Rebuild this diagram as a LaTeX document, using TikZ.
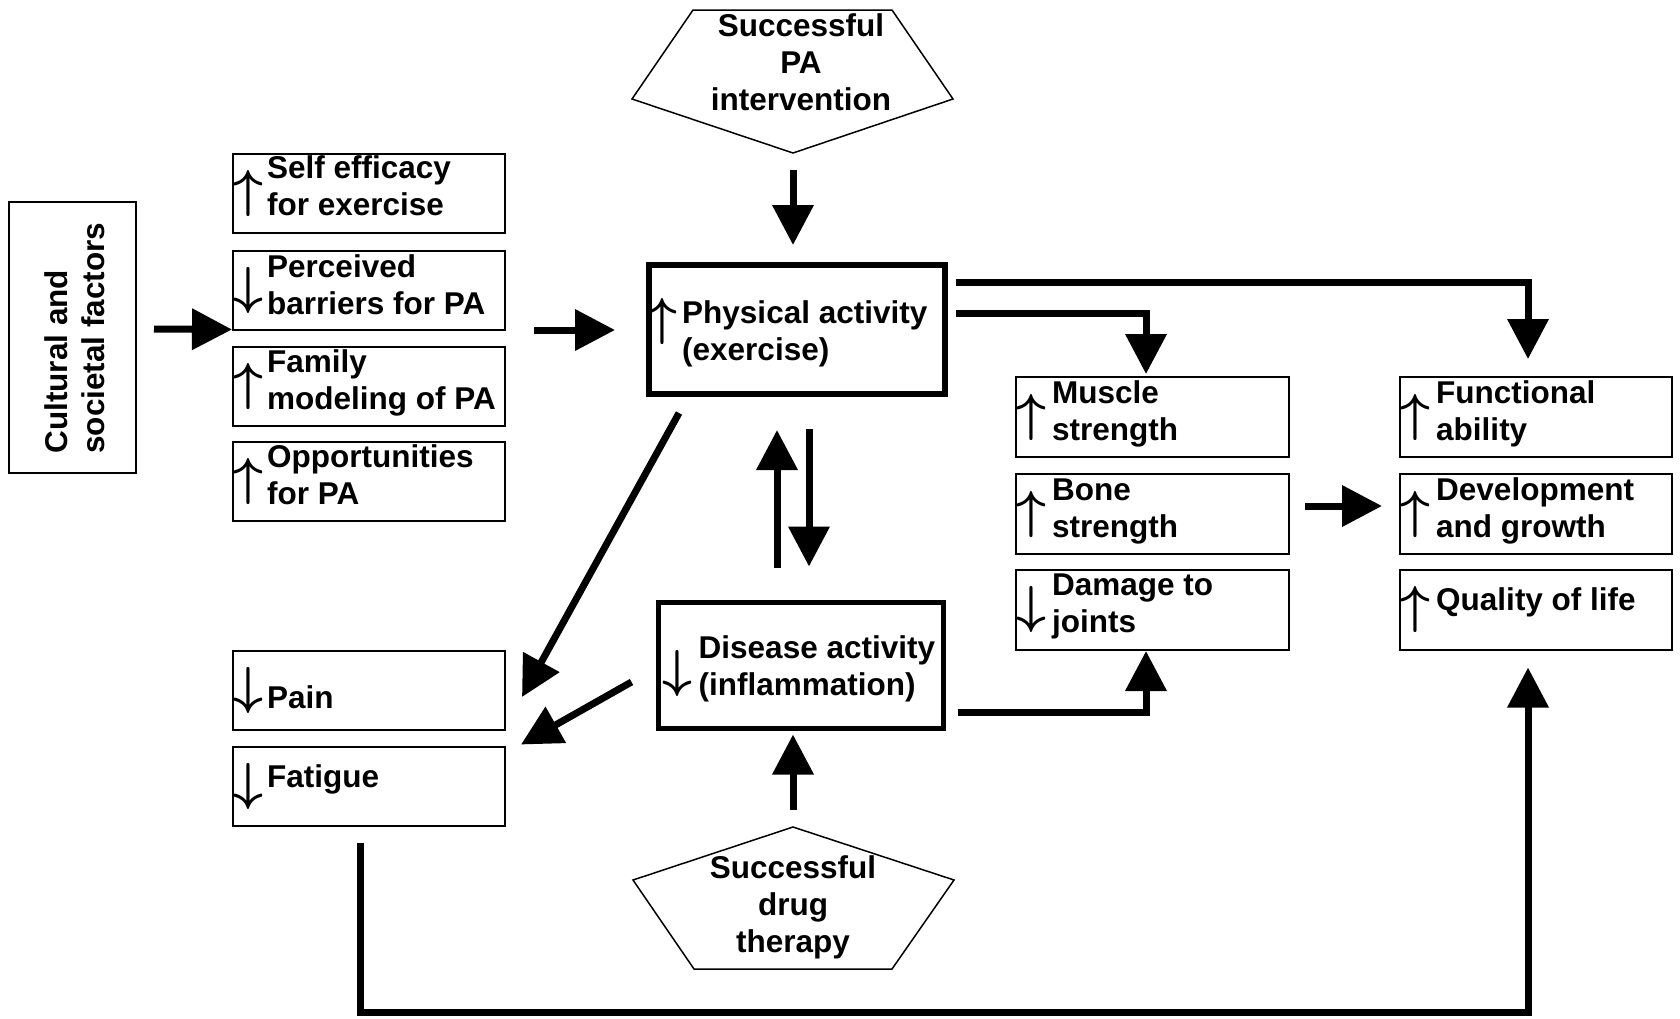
\documentclass[tikz,border=0pt]{standalone}
\usepackage{fontspec}
\setmainfont{Liberation Sans}
\usetikzlibrary{arrows.meta,calc}
\newcommand\symup{\scalebox{5.2}{\boldmath$\uparrow$}}
\newcommand\symdn{\scalebox{5.2}{\boldmath$\downarrow$}}
\begin{document}
\begin{tikzpicture}[x=1pt,y=-1pt,
  box/.style={draw, line width=2pt, rectangle, minimum width=272pt, minimum height=79pt, inner sep=0pt},
  lbl/.style={font=\bfseries\fontsize{31.5}{37}\selectfont, align=left, anchor=west, inner sep=0pt},
  ctr/.style={font=\bfseries\fontsize{31.5}{37}\selectfont, align=center, inner sep=0pt},
  sym/.style={font=\normalsize, inner sep=0pt},
  conn/.style={line width=7pt, -{Triangle[length=40pt,width=40pt]}, line join=miter},
  penta/.style={draw, line width=1.5pt, line join=miter},
]
\useasboundingbox (0,0) rectangle (1680,1018);

% Cultural and societal factors
\node[box, minimum width=127pt, minimum height=271pt] (cult) at (72.5,337.5) {};
\node[lbl, anchor=center, rotate=90] (cult-t) at (78.6,338) {\strut Cultural and\\\strut societal factors};

% left column
\node[box] (b1) at (369,193.5) {};
\node[lbl] (b1-t) at ($(b1.west)+(35,-3.5)$) {\strut Self efficacy\\\strut for exercise};
\node[sym] (b1-a) at ($(b1.west)+(16,0)$) {\symup};

\node[box] (b2) at (369,290) {};
\node[lbl] (b2-t) at ($(b2.west)+(35,-1.5)$) {\strut Perceived\\\strut barriers for PA};
\node[sym] (b2-a) at ($(b2.west)+(16,0)$) {\symdn};

\node[box] (b3) at (369,386) {};
\node[lbl] (b3-t) at ($(b3.west)+(35,-2.5)$) {\strut Family\\\strut modeling of PA};
\node[sym] (b3-a) at ($(b3.west)+(16,0)$) {\symup};

\node[box] (b4) at (369,481.5) {};
\node[lbl] (b4-t) at ($(b4.west)+(35,-2.5)$) {\strut Opportunities\\\strut for PA};
\node[sym] (b4-a) at ($(b4.west)+(16,0)$) {\symup};

\node[box] (pain) at (369,690) {};
\node[lbl] (pain-t) at ($(pain.west)+(35,11.5)$) {\strut Pain};
\node[sym] (pain-a) at ($(pain.west)+(16,0)$) {\symdn};

\node[box] (fat) at (369,786) {};
\node[lbl] (fat-t) at ($(fat.west)+(35,-5.5)$) {\strut Fatigue};
\node[sym] (fat-a) at ($(fat.west)+(16,0)$) {\symdn};

% top pentagon
\draw[penta] (693,10) -- (892,10) -- (953,99) -- (793,153) -- (632,99) -- cycle;
\coordinate (int-b) at (793,153);
\node[ctr] (int) at (801,66) {\strut Successful\\\strut PA\\\strut intervention};

% physical activity
\node[draw, line width=6pt, minimum width=296pt, minimum height=129pt, inner sep=0pt] (pa) at (797,329.5) {};
\node[lbl] (pa-t) at ($(pa.west)+(36,5.5)$) {\strut Physical activity\\\strut (exercise)};
\node[sym] (pa-a) at ($(pa.west)+(16,-8)$) {\symup};

% disease activity
\node[draw, line width=5pt, minimum width=285pt, minimum height=126pt, inner sep=0pt] (dis) at (801,665.5) {};
\node[lbl] (dis-t) at ($(dis.west)+(42.5,4.5)$) {\strut Disease activity\\\strut (inflammation)};
\node[sym] (dis-a) at ($(dis.west)+(21.5,7.5)$) {\symdn};

% drug pentagon
\draw[penta] (793,827) -- (954,880) -- (892,969) -- (694,969) -- (633,880) -- cycle;
\coordinate (drug-t) at (793,827);
\node[ctr] (drug) at (793,908) {\strut Successful\\\strut drug\\\strut therapy};

% right-middle column
\node[box, minimum width=273pt, minimum height=80pt] (mus) at (1152.5,417) {};
\node[lbl] (mus-t) at ($(mus.west)+(37,-2.5)$) {\strut Muscle\\\strut strength};
\node[sym] (mus-a) at ($(mus.west)+(16,0)$) {\symup};

\node[box, minimum width=273pt, minimum height=80pt] (bone) at (1152.5,514) {};
\node[lbl] (bone-t) at ($(bone.west)+(37,-2.5)$) {\strut Bone\\\strut strength};
\node[sym] (bone-a) at ($(bone.west)+(16,0)$) {\symup};

\node[box, minimum width=273pt, minimum height=80pt] (dam) at (1152.5,609.5) {};
\node[lbl] (dam-t) at ($(dam.west)+(37,-2.5)$) {\strut Damage to\\\strut joints};
\node[sym] (dam-a) at ($(dam.west)+(16,0)$) {\symdn};

% right column
\node[box, minimum width=272pt, minimum height=80pt] (func) at (1536,417) {};
\node[lbl] (func-t) at ($(func.west)+(37,-2.5)$) {\strut Functional\\\strut ability};
\node[sym] (func-a) at ($(func.west)+(16,0)$) {\symup};

\node[box, minimum width=272pt, minimum height=80pt] (dev) at (1536,514) {};
\node[lbl] (dev-t) at ($(dev.west)+(37,-2.5)$) {\strut Development\\\strut and growth};
\node[sym] (dev-a) at ($(dev.west)+(16,0)$) {\symup};

\node[box, minimum width=272pt, minimum height=80pt] (qol) at (1536,609.5) {};
\node[lbl] (qol-t) at ($(qol.west)+(37,-6)$) {\strut Quality of life};
\node[sym] (qol-a) at ($(qol.west)+(16,0)$) {\symup};

% connectors
\draw[conn] ($(cult.east)+(17,-8.5)$) -- ($(b2.south west)+(0,-1)$);
\draw[conn] ($(pa.west)+(-112,0.5)$) -- ($(pa.west)+(-31,0.5)$);
\draw[conn] ($(int-b)+(0,17)$) -- ($(pa.north)+(-4,-17)$);
\draw[conn] ($(pa.east)+(8,-47.5)$) -| ($(func.north)+(-8,-17)$);
\draw[conn] ($(pa.east)+(8,-16.5)$) -| ($(mus.north)+(-6.5,-2)$);
\draw[conn] ($(pa.south west)+(33,16)$) -- ($(pain.east)+(16,7)$);
\draw[conn] ($(dis.north)+(-24,-32)$) -- ($(pa.south)+(-20,33)$);
\draw[conn] ($(pa.south)+(12,32)$) -- ($(dis.north)+(8,-33.5)$);
\draw[conn] ($(dis.west)+(-24.5,16.5)$) -- ($(fat.north east)+(15,-1)$);
\draw[conn] ($(dis.east)+(11.5,47)$) -| ($(dam.south)+(-6.5,0.5)$);
\draw[conn] ($(drug-t)+(0,-17)$) -- ($(dis.south)+(-8,3.5)$);
\draw[conn] ($(bone.east)+(15,-8)$) -- ($(dev.west)+(-17,-8)$);
\draw[conn] ($(fat.south)+(-8.5,16)$) -- ++(0,170) -| ($(qol.south)+(-8,17)$);
\end{tikzpicture}
\end{document}
